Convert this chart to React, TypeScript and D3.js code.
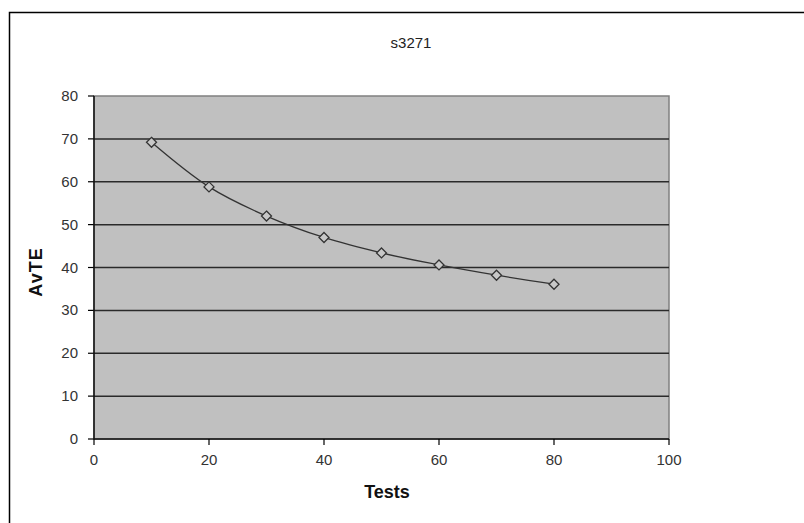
import * as d3 from "d3";

const tests = [10, 20, 30, 40, 50, 60, 70, 80];
const avte = [69.2, 58.8, 52.0, 47.0, 43.4, 40.6, 38.2, 36.1];
const yTicks = [0, 10, 20, 30, 40, 50, 60, 70, 80];
const xTicks = [0, 20, 40, 60, 80, 100];

export default function App() {
  const left = 94;
  const right = 669;
  const top = 96;
  const bottom = 439;

  const x = d3.scaleLinear().domain([0, 100]).range([left, right]);
  const y = d3.scaleLinear().domain([0, 80]).range([bottom, top]);

  const pts = tests.map((t, i) => [x(t), y(avte[i])] as [number, number]);
  const line = d3.line().curve(d3.curveCatmullRom.alpha(0.5))(pts) || "";

  const font = "'Liberation Sans', Arial, sans-serif";

  return (
    <svg
      width={804}
      height={523}
      style={{ position: "absolute", left: 0, top: 0, background: "#fff" }}
      fontFamily={font}
    >
      {/* outer chart border */}
      <rect x={9.5} y={12.5} width={820} height={540} fill="none" stroke="#000" strokeWidth={1.5} />

      <text x={411} y={48} textAnchor="middle" fontSize={15} fill="#222">
        s3271
      </text>

      <rect x={left} y={top} width={right - left} height={bottom - top} fill="#c0c0c0" stroke="#808080" strokeWidth={1.5} />

      {yTicks.map((t) => (
        <g key={"y" + t}>
          {t > 0 && t < 80 && (
            <line x1={left} x2={right} y1={y(t)} y2={y(t)} stroke="#2a2a2a" strokeWidth={1.5} />
          )}
          <line x1={left - 6} x2={left} y1={y(t)} y2={y(t)} stroke="#000" strokeWidth={1.2} />
          <text x={78} y={y(t) + 5} textAnchor="end" fontSize={15} fill="#333">
            {t}
          </text>
        </g>
      ))}

      <line x1={left} x2={left} y1={top} y2={bottom} stroke="#111" strokeWidth={1.5} />
      <line x1={left} x2={right} y1={bottom} y2={bottom} stroke="#111" strokeWidth={1.5} />

      {xTicks.map((t) => (
        <g key={"x" + t}>
          <line x1={x(t)} x2={x(t)} y1={bottom} y2={bottom + 6} stroke="#000" strokeWidth={1.2} />
          <text x={x(t)} y={465} textAnchor="middle" fontSize={15} fill="#333">
            {t}
          </text>
        </g>
      ))}

      <path d={line} fill="none" stroke="#333" strokeWidth={1.3} />
      {pts.map(([px, py], i) => (
        <path
          key={i}
          d={`M${px},${py - 5}L${px + 5},${py}L${px},${py + 5}L${px - 5},${py}Z`}
          fill="#c8c8c8"
          stroke="#333"
          strokeWidth={1.3}
        />
      ))}

      <text
        transform={`translate(42,272) rotate(-90)`}
        textAnchor="middle"
        fontSize={18}
        fontWeight="bold"
        letterSpacing={1}
        fill="#111"
      >
        AvTE
      </text>
      <text x={387} y={498} textAnchor="middle" fontSize={18} fontWeight="bold" fill="#111">
        Tests
      </text>
    </svg>
  );
}
